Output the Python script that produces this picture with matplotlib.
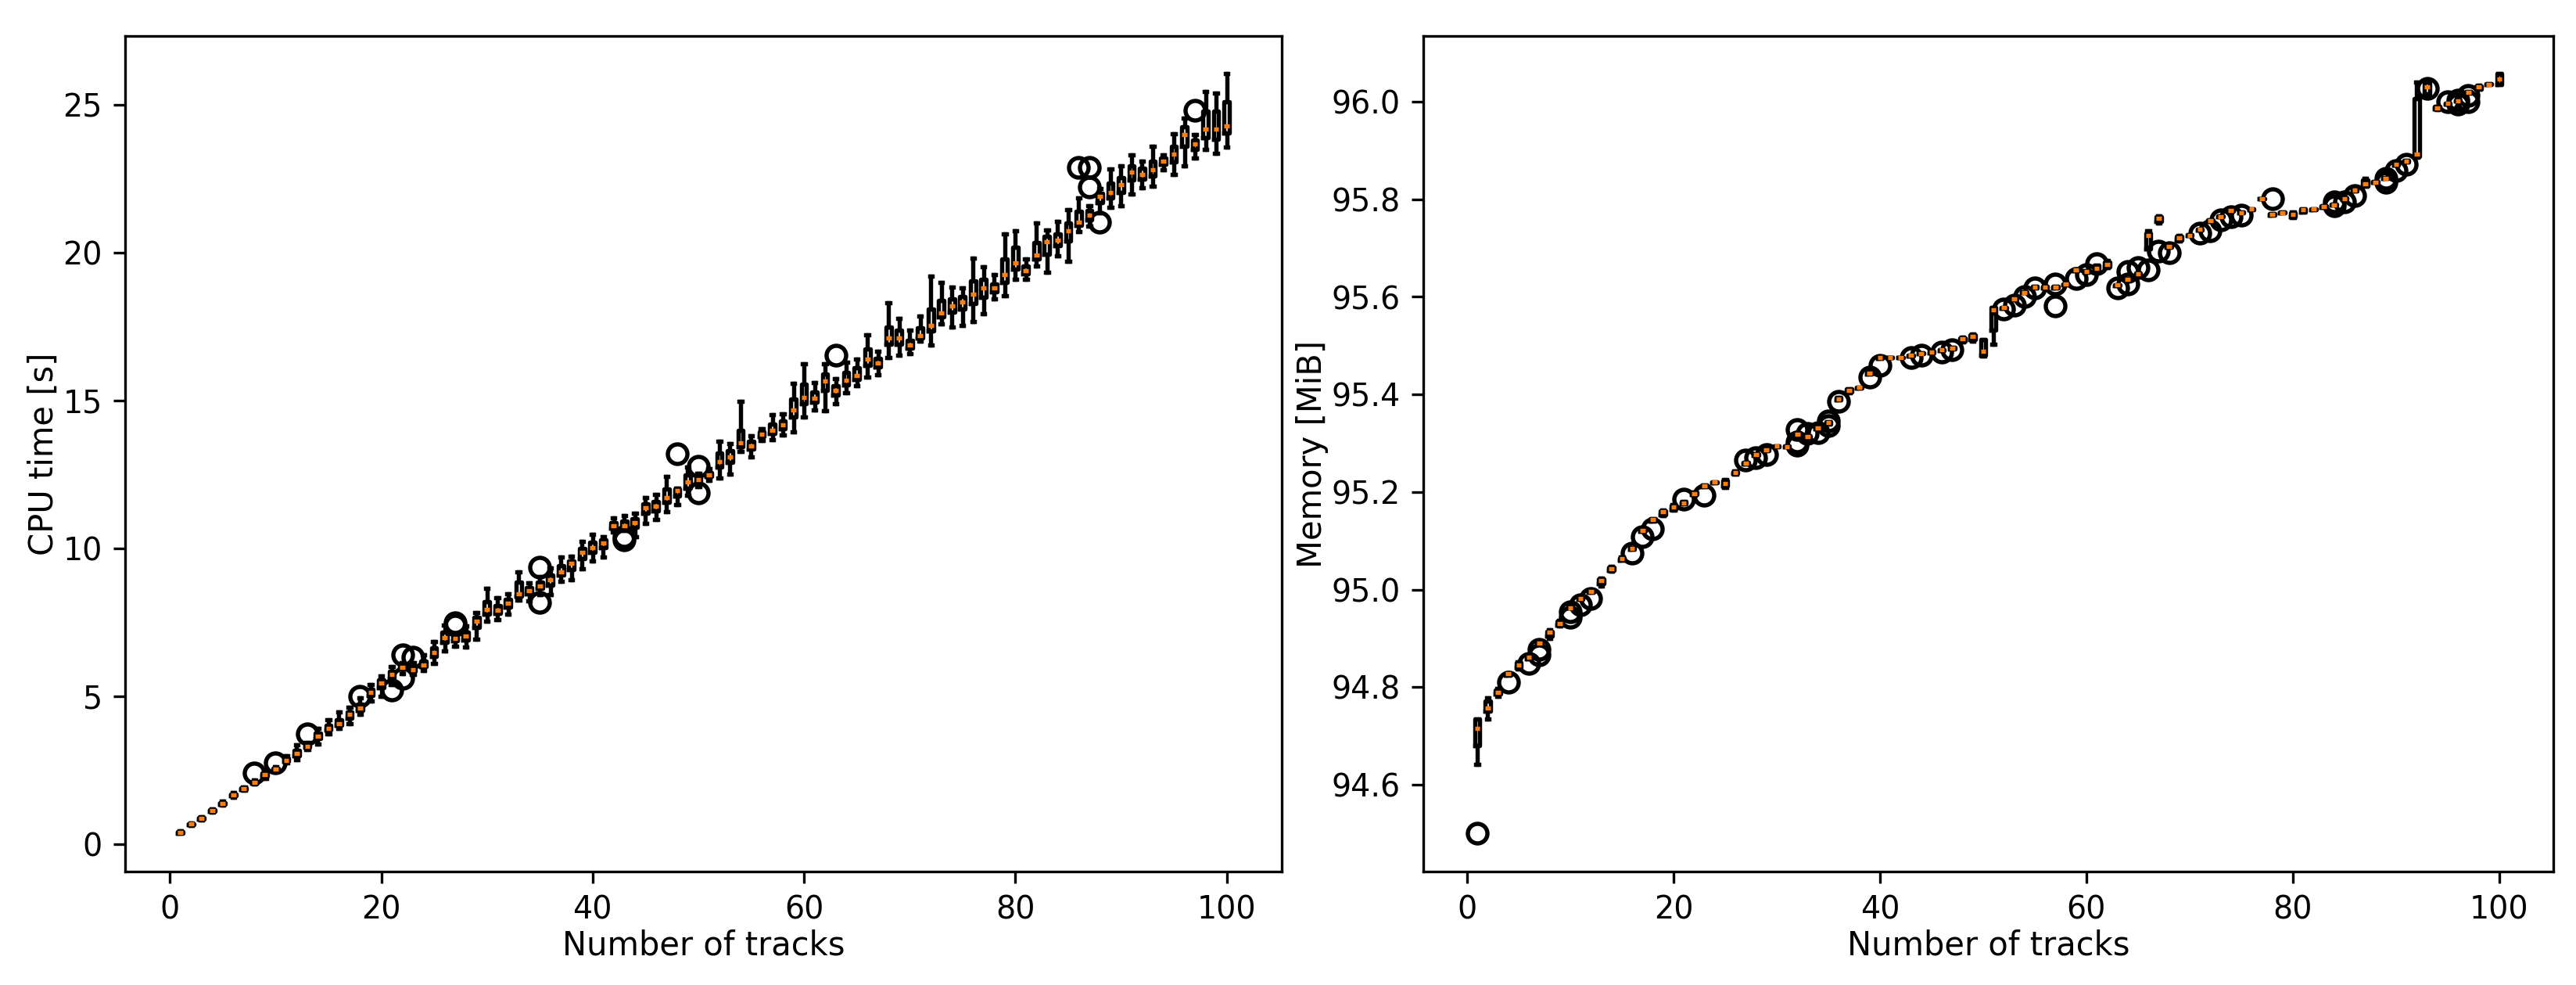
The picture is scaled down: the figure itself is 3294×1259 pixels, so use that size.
import matplotlib
matplotlib.use("Agg")
import matplotlib.pyplot as plt

# number of tracks (box positions)
tracks = list(range(1, 101))

# ---- CPU time [s] ----
cpu_med = [0.40, 0.68, 0.87, 1.14, 1.38, 1.66, 1.87, 2.09, 2.35, 2.53,
           2.84, 3.06, 3.32, 3.66, 3.92, 4.07, 4.38, 4.60, 5.13, 5.45,
           5.74, 5.99, 5.90, 6.07, 6.49, 6.98, 6.96, 7.04, 7.55, 7.93,
           7.92, 8.14, 8.47, 8.58, 8.74, 8.94, 9.22, 9.50, 9.86, 10.03,
           10.19, 10.78, 10.78, 10.88, 11.38, 11.43, 11.73, 11.95, 12.26, 12.32,
           12.50, 12.94, 13.10, 13.57, 13.48, 13.87, 14.00, 14.17, 14.69, 15.11,
           15.08, 15.67, 15.35, 15.68, 15.85, 16.40, 16.27, 17.12, 17.12, 16.89,
           17.21, 17.55, 17.96, 18.21, 18.34, 18.60, 18.80, 18.80, 19.25, 19.65,
           19.39, 19.92, 20.36, 20.43, 20.74, 21.04, 21.27, 21.91, 22.04, 22.30,
           22.73, 22.66, 22.81, 23.11, 23.33, 24.00, 23.67, 24.18, 24.18, 24.30]
cpu_q1 = [0.38, 0.66, 0.85, 1.12, 1.35, 1.63, 1.85, 2.06, 2.30, 2.50,
          2.80, 2.98, 3.28, 3.56, 3.85, 4.02, 4.27, 4.53, 5.03, 5.29,
          5.62, 5.92, 5.84, 6.00, 6.35, 6.83, 6.87, 6.91, 7.33, 7.79,
          7.80, 8.02, 8.39, 8.46, 8.64, 8.76, 9.10, 9.30, 9.67, 9.88,
          10.02, 10.70, 10.72, 10.72, 11.19, 11.27, 11.56, 11.78, 12.05, 12.22,
          12.43, 12.75, 12.90, 13.45, 13.35, 13.78, 13.88, 14.05, 14.45, 14.90,
          14.95, 15.35, 15.20, 15.52, 15.72, 16.18, 16.13, 16.90, 16.90, 16.78,
          17.13, 17.35, 17.82, 17.98, 18.10, 18.28, 18.50, 18.68, 19.00, 19.45,
          19.28, 19.78, 19.95, 20.25, 20.40, 20.92, 21.12, 21.70, 21.85, 22.05,
          22.45, 22.50, 22.60, 23.00, 23.08, 23.60, 23.50, 23.90, 23.85, 24.05]
cpu_q3 = [0.42, 0.70, 0.89, 1.17, 1.41, 1.70, 1.90, 2.12, 2.42, 2.57,
          2.91, 3.18, 3.38, 3.76, 4.03, 4.22, 4.48, 4.74, 5.24, 5.55,
          5.84, 6.05, 5.99, 6.20, 6.64, 7.16, 7.02, 7.17, 7.66, 8.21,
          8.08, 8.27, 8.86, 8.69, 8.86, 9.10, 9.42, 9.59, 10.01, 10.21,
          10.28, 10.88, 10.92, 11.01, 11.51, 11.59, 12.01, 12.00, 12.50, 12.42,
          12.58, 13.22, 13.30, 14.00, 13.62, 13.95, 14.22, 14.32, 15.05, 15.55,
          15.30, 15.90, 15.50, 15.95, 16.10, 16.75, 16.42, 17.50, 17.38, 17.05,
          17.45, 18.10, 18.40, 18.45, 18.52, 19.05, 19.10, 18.95, 19.78, 20.20,
          19.55, 20.35, 20.55, 20.65, 21.02, 21.40, 21.42, 22.02, 22.35, 22.55,
          22.95, 22.85, 23.10, 23.20, 23.60, 24.25, 23.82, 24.80, 24.80, 25.10]
cpu_lo = [0.36, 0.63, 0.83, 1.08, 1.32, 1.60, 1.82, 2.03, 2.22, 2.45,
          2.75, 2.85, 3.20, 3.38, 3.72, 3.92, 4.07, 4.40, 4.84, 4.99,
          5.39, 5.78, 5.74, 5.87, 6.10, 6.54, 6.70, 6.66, 6.93, 7.53,
          7.59, 7.79, 8.25, 8.23, 8.45, 8.43, 8.89, 8.94, 9.31, 9.59,
          9.71, 10.55, 10.60, 10.41, 10.85, 10.98, 11.25, 11.47, 11.80, 12.10,
          12.30, 12.39, 12.52, 13.27, 13.10, 13.65, 13.67, 13.85, 13.95, 14.44,
          14.68, 14.65, 14.90, 15.26, 15.50, 15.79, 15.88, 16.45, 16.53, 16.58,
          17.00, 16.89, 17.60, 17.50, 17.55, 17.68, 17.94, 18.45, 18.56, 19.10,
          19.10, 19.55, 19.34, 19.90, 19.72, 20.71, 20.90, 21.35, 21.54, 21.60,
          21.99, 22.20, 22.24, 22.80, 22.66, 22.95, 23.20, 23.49, 23.36, 23.58]
cpu_hi = [0.44, 0.72, 0.92, 1.20, 1.45, 1.75, 1.93, 2.16, 2.52, 2.62,
          3.00, 3.37, 3.45, 3.92, 4.20, 4.47, 4.64, 4.95, 5.41, 5.70,
          6.00, 6.14, 6.14, 6.40, 6.86, 7.42, 7.10, 7.37, 7.83, 8.64,
          8.33, 8.47, 9.22, 8.85, 9.05, 9.35, 9.71, 9.73, 10.24, 10.49,
          10.41, 11.02, 11.12, 11.20, 11.71, 11.82, 12.44, 12.04, 12.75, 12.55,
          12.70, 13.63, 13.54, 14.97, 13.80, 14.05, 14.53, 14.55, 15.58, 16.25,
          15.60, 16.25, 15.74, 16.31, 16.40, 17.22, 16.67, 18.31, 17.77, 17.37,
          17.85, 19.22, 19.00, 18.83, 18.80, 19.82, 19.52, 19.25, 20.64, 20.73,
          19.80, 21.00, 20.78, 21.05, 21.47, 21.85, 21.60, 22.18, 22.84, 22.95,
          23.30, 23.10, 23.59, 23.30, 24.03, 24.54, 24.00, 25.45, 25.39, 26.05]
cpu_flier_pos = [8, 10, 13, 18, 21, 22, 22, 23, 27, 27, 35, 35, 43, 43, 48,
                 50, 50, 63, 86, 87, 87, 88, 97]
cpu_flier_val = [2.40, 2.75, 3.72, 4.99, 5.21, 6.40, 5.61, 6.32, 7.48, 7.40, 9.36, 8.17,
                 10.28, 10.40, 13.19, 12.79, 11.87, 16.54, 22.88, 22.88, 22.22, 21.03, 24.81]

# ---- Memory [MiB] ----
mem_med = [94.716, 94.758, 94.790, 94.827, 94.846, 94.861, 94.890, 94.912, 94.931, 94.963,
           94.982, 94.996, 95.018, 95.043, 95.063, 95.084, 95.122, 95.143, 95.159, 95.170,
           95.178, 95.197, 95.213, 95.220, 95.218, 95.240, 95.259, 95.277, 95.287, 95.294,
           95.293, 95.319, 95.313, 95.331, 95.342, 95.391, 95.409, 95.414, 95.444, 95.475,
           95.475, 95.475, 95.480, 95.484, 95.487, 95.491, 95.495, 95.514, 95.519, 95.488,
           95.574, 95.578, 95.596, 95.609, 95.620, 95.620, 95.620, 95.626, 95.655, 95.652,
           95.659, 95.667, 95.624, 95.636, 95.647, 95.726, 95.761, 95.703, 95.721, 95.726,
           95.738, 95.756, 95.765, 95.777, 95.773, 95.780, 95.801, 95.769, 95.773, 95.769,
           95.778, 95.780, 95.785, 95.789, 95.801, 95.818, 95.831, 95.835, 95.843, 95.871,
           95.878, 95.893, 96.031, 95.987, 95.996, 96.002, 96.019, 96.031, 96.036, 96.046]
mem_q1 = [94.680, 94.750, 94.786, 94.825, 94.841, 94.859, 94.889, 94.905, 94.927, 94.962,
          94.980, 94.994, 95.012, 95.040, 95.061, 95.082, 95.120, 95.141, 95.154, 95.165,
          95.176, 95.195, 95.211, 95.219, 95.212, 95.238, 95.257, 95.275, 95.285, 95.293,
          95.292, 95.317, 95.311, 95.329, 95.340, 95.389, 95.405, 95.413, 95.442, 95.474,
          95.475, 95.475, 95.479, 95.483, 95.486, 95.490, 95.494, 95.509, 95.513, 95.480,
          95.531, 95.577, 95.595, 95.608, 95.619, 95.619, 95.619, 95.625, 95.653, 95.651,
          95.657, 95.662, 95.623, 95.635, 95.646, 95.698, 95.755, 95.702, 95.716, 95.725,
          95.737, 95.755, 95.764, 95.776, 95.772, 95.779, 95.801, 95.768, 95.772, 95.764,
          95.774, 95.779, 95.784, 95.788, 95.800, 95.817, 95.826, 95.834, 95.842, 95.870,
          95.877, 95.888, 96.016, 95.985, 95.995, 96.001, 96.018, 96.026, 96.035, 96.036]
mem_q3 = [94.734, 94.772, 94.794, 94.829, 94.850, 94.863, 94.892, 94.915, 94.935, 94.965,
          94.984, 94.998, 95.022, 95.046, 95.065, 95.086, 95.124, 95.145, 95.162, 95.173,
          95.180, 95.199, 95.215, 95.221, 95.224, 95.242, 95.261, 95.279, 95.289, 95.295,
          95.294, 95.321, 95.315, 95.333, 95.344, 95.393, 95.411, 95.415, 95.446, 95.476,
          95.475, 95.475, 95.481, 95.485, 95.488, 95.492, 95.496, 95.516, 95.522, 95.512,
          95.578, 95.579, 95.597, 95.610, 95.621, 95.621, 95.621, 95.627, 95.657, 95.653,
          95.665, 95.672, 95.625, 95.637, 95.648, 95.730, 95.764, 95.704, 95.724, 95.727,
          95.739, 95.757, 95.766, 95.778, 95.774, 95.781, 95.801, 95.770, 95.774, 95.772,
          95.780, 95.781, 95.786, 95.790, 95.802, 95.819, 95.840, 95.836, 95.844, 95.872,
          95.879, 96.006, 96.040, 95.990, 95.997, 96.003, 96.020, 96.032, 96.037, 96.057]
mem_lo = [94.642, 94.734, 94.782, 94.825, 94.838, 94.859, 94.889, 94.900, 94.925, 94.962,
          94.980, 94.994, 95.008, 95.038, 95.060, 95.082, 95.120, 95.141, 95.151, 95.163,
          95.176, 95.194, 95.211, 95.219, 95.210, 95.237, 95.257, 95.275, 95.285, 95.293,
          95.292, 95.317, 95.311, 95.329, 95.340, 95.389, 95.403, 95.413, 95.442, 95.474,
          95.475, 95.475, 95.479, 95.483, 95.486, 95.490, 95.494, 95.507, 95.510, 95.478,
          95.503, 95.577, 95.595, 95.608, 95.619, 95.619, 95.619, 95.625, 95.653, 95.651,
          95.657, 95.660, 95.623, 95.635, 95.646, 95.698, 95.752, 95.702, 95.714, 95.725,
          95.737, 95.755, 95.764, 95.776, 95.772, 95.779, 95.801, 95.768, 95.772, 95.762,
          95.774, 95.779, 95.784, 95.788, 95.800, 95.817, 95.826, 95.834, 95.842, 95.870,
          95.877, 95.886, 96.012, 95.984, 95.995, 96.001, 96.018, 96.025, 96.035, 96.036]
mem_hi = [94.734, 94.778, 94.797, 94.829, 94.852, 94.863, 94.892, 94.918, 94.937, 94.965,
          94.984, 94.998, 95.024, 95.047, 95.066, 95.086, 95.124, 95.145, 95.163, 95.174,
          95.180, 95.200, 95.215, 95.221, 95.226, 95.243, 95.261, 95.279, 95.289, 95.295,
          95.294, 95.321, 95.315, 95.333, 95.344, 95.393, 95.412, 95.415, 95.446, 95.476,
          95.475, 95.475, 95.481, 95.485, 95.488, 95.492, 95.496, 95.518, 95.524, 95.512,
          95.578, 95.579, 95.597, 95.610, 95.621, 95.621, 95.621, 95.627, 95.657, 95.653,
          95.665, 95.675, 95.625, 95.637, 95.648, 95.736, 95.766, 95.704, 95.726, 95.727,
          95.739, 95.757, 95.766, 95.778, 95.774, 95.781, 95.801, 95.770, 95.774, 95.774,
          95.781, 95.781, 95.786, 95.790, 95.802, 95.819, 95.842, 95.836, 95.844, 95.872,
          95.879, 96.040, 96.040, 95.991, 95.997, 96.003, 96.020, 96.033, 96.037, 96.057]
mem_flier_pos = [1, 4, 6, 7, 7, 10, 10, 11, 12, 16, 17, 18, 21, 23, 27, 28, 29, 32, 32, 32,
                 33, 34, 35, 35, 36, 39, 40, 43, 44, 46, 47, 52, 53, 54, 55, 57, 57, 59, 60,
                 61, 63, 64, 64, 65, 66, 67, 68, 71, 72, 73, 74, 75, 78, 84, 84, 85, 86, 89,
                 89, 90, 91, 93, 95, 96, 96, 97, 97]
mem_flier_val = [94.500, 94.810, 94.848, 94.877, 94.867, 94.944, 94.955, 94.969, 94.982,
                 95.075, 95.108, 95.124, 95.185, 95.194, 95.265, 95.270, 95.277, 95.328,
                 95.296, 95.303, 95.320, 95.321, 95.336, 95.345, 95.385, 95.436, 95.460,
                 95.476, 95.480, 95.487, 95.491, 95.575, 95.583, 95.600, 95.618, 95.626,
                 95.581, 95.637, 95.645, 95.668, 95.618, 95.652, 95.626, 95.660, 95.655,
                 95.693, 95.690, 95.730, 95.735, 95.757, 95.765, 95.768, 95.801, 95.787,
                 95.795, 95.795, 95.807, 95.842, 95.834, 95.859, 95.872, 96.027, 96.000,
                 96.003, 95.995, 96.000, 96.013]


def make_stats(med, q1, q3, lo, hi, fpos, fval):
    stats = []
    for k, t in enumerate(tracks):
        stats.append(dict(med=med[k], q1=q1[k], q3=q3[k], whislo=lo[k], whishi=hi[k],
                          fliers=[v for p, v in zip(fpos, fval) if p == t]))
    return stats


# slightly heavier strokes than the defaults
lw = 1.3
box_kw = dict(positions=tracks, manage_ticks=False,
              boxprops=dict(linewidth=lw),
              whiskerprops=dict(linewidth=lw),
              capprops=dict(linewidth=lw),
              medianprops=dict(linewidth=lw, color='C1'),
              flierprops=dict(marker='o', markersize=6, markeredgewidth=lw,
                              markerfacecolor='none', markeredgecolor='black'))

fig = plt.figure(figsize=(10.983, 4.197), dpi=300)
ax1 = fig.add_axes([0.0486, 0.1152, 0.4489, 0.8483])
ax2 = fig.add_axes([0.5524, 0.1152, 0.4385, 0.8483])

ax1.bxp(make_stats(cpu_med, cpu_q1, cpu_q3, cpu_lo, cpu_hi, cpu_flier_pos, cpu_flier_val), **box_kw)
ax1.set_xlabel('Number of tracks', labelpad=1)
ax1.set_ylabel('CPU time [s]', labelpad=1)

ax2.bxp(make_stats(mem_med, mem_q1, mem_q3, mem_lo, mem_hi, mem_flier_pos, mem_flier_val), **box_kw)
ax2.set_xlabel('Number of tracks', labelpad=1)
ax2.set_ylabel('Memory [MiB]', labelpad=1)

for ax in (ax1, ax2):
    ax.set_xticks([0, 20, 40, 60, 80, 100])
    ax.tick_params(labelsize=9.5)

fig.savefig('out.png', dpi=300)
